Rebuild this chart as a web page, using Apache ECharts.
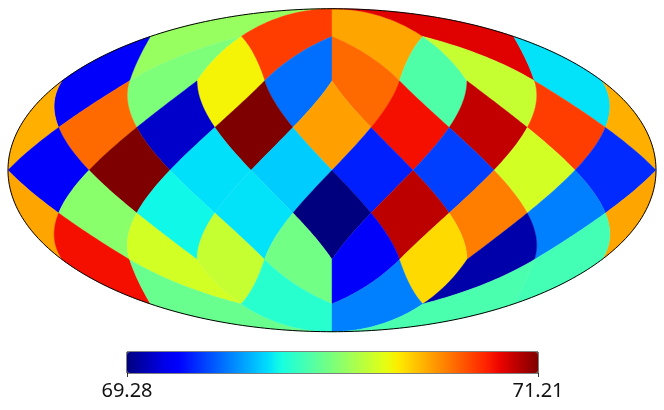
<!DOCTYPE html>
<html>
<head>
<meta charset="utf-8">
<style>
  html, body { margin: 0; padding: 0; background: #fff; }
  #chart { width: 664px; height: 410px; }
</style>
<script src="https://cdn.jsdelivr.net/npm/echarts@6/dist/echarts.min.js"></script>
</head>
<body>
<div id="chart"></div>
<script>
// healpix nside=2 map, one array per iso-latitude ring, read left to right on the picture
const ring1 = [70.31, 70.91, 70.70, 71.05]
const ring2 = [69.51, 70.25, 70.53, 69.73, 70.82, 70.14, 70.42, 69.95]
const ring3 = [70.68, 70.82, 69.405, 71.21, 70.71, 71.005, 71.10, 70.91]
const ring4 = [69.51, 71.21, 69.945, 69.91, 69.58, 69.64, 70.45, 69.60]
const ring5 = [70.70, 70.28, 69.99, 69.95, 69.28, 71.11, 70.78, 69.76]
const ring6 = [71.005, 70.45, 70.42, 70.22, 69.51, 70.59, 69.35, 70.11]
const ring7 = [70.20, 70.05, 69.76, 70.13]
const rings = [ring1, ring2, ring3, ring4, ring5, ring6, ring7]

const colorbarTicks = [69.28, 71.21]

// matplotlib jet
const jet = [
  '#00007f', '#0000a4', '#0000c8', '#0000ec', '#0000ff', '#0020ff', '#0040ff', '#0060ff',
  '#0080ff', '#009fff', '#00bfff', '#00dffc', '#15ffe2', '#2effc8', '#48ffaf', '#62ff95',
  '#7bff7b', '#95ff62', '#afff48', '#c8ff2e', '#e2ff15', '#fcf000', '#ffd200', '#ffb500',
  '#ff9700', '#ff7a00', '#ff5c00', '#ff3e00', '#ff2100', '#ec0300', '#c80000', '#a40000',
  '#7f0000'
]

const PI = Math.PI
const STEP = PI / 8

// one item per pixel: [centre x, centre y, value] on the healpix plane
function buildPixels() {
  const out = []
  rings.forEach(function (vals, r) {
    const cy = PI / 2 - (r + 1) * STEP
    const n = vals.length
    const dx = 2 * PI / n
    // ring 3 and 5 start on the map edge at lon 180
    const startLon = n === 4 ? PI - dx / 2 : (r % 2 === 0 ? PI : PI - dx / 2)
    vals.forEach(function (v, i) {
      const cx = startLon - i * dx
      out.push([cx, cy, v])
      if (Math.abs(cx - PI) < 1e-9) out.push([-PI, cy, v])
    })
  })
  return out
}

// healpix plane -> mollweide x/y
function project(xt, yt, cx) {
  const ay = Math.abs(yt)
  let z, phi
  if (ay <= PI / 4) {
    z = yt * 8 / (3 * PI)
    phi = xt
  } else {
    const sigma = 2 - 4 * ay / PI
    z = (1 - sigma * sigma / 3) * (yt < 0 ? -1 : 1)
    const xc = (Math.floor(cx / (PI / 2)) + 0.5) * PI / 2
    if (PI / 2 - ay < 1e-9) phi = xc
    else phi = xt + (ay - PI / 4) / (PI / 2 - ay) * (xt - xc)
  }
  const lon = Math.max(-PI, Math.min(PI, phi))
  return mollweide(lon, z)
}

function mollweide(lon, z) {
  let th = Math.asin(z)
  if (Math.abs(z) < 1) {
    for (let k = 0; k < 60; k++) {
      const d = 2 + 2 * Math.cos(2 * th)
      if (d < 1e-10) break
      th -= (2 * th + Math.sin(2 * th) - PI * z) / d
    }
  }
  // east is on the left
  return [-2 * Math.SQRT2 / PI * lon * Math.cos(th), Math.SQRT2 * Math.sin(th)]
}

function renderPixel(params, api) {
  const cx = api.value(0)
  const cy = api.value(1)
  const corners = [[cx, cy + STEP], [cx + STEP, cy], [cx, cy - STEP], [cx - STEP, cy]]
  const pts = []
  const steps = 24
  for (let c = 0; c < 4; c++) {
    const a = corners[c]
    const b = corners[(c + 1) % 4]
    for (let s = 0; s < steps; s++) {
      const t = s / steps
      pts.push(api.coord(project(a[0] + (b[0] - a[0]) * t, a[1] + (b[1] - a[1]) * t, cx)))
    }
  }
  const color = api.visual('color')
  return {
    type: 'polygon',
    shape: { points: pts },
    style: { fill: color, stroke: color, lineWidth: 0.4 }
  }
}

function renderOutline(params, api) {
  const pts = []
  for (let i = 0; i <= 360; i++) {
    const a = i / 360 * 2 * PI
    pts.push(api.coord([2 * Math.SQRT2 * Math.cos(a), Math.SQRT2 * Math.sin(a)]))
  }
  return {
    type: 'polygon',
    shape: { points: pts },
    style: { fill: 'none', stroke: '#000', lineWidth: 1 }
  }
}

const chart = echarts.init(document.getElementById('chart'), null, { renderer: 'canvas' })
chart.setOption({
  animation: false,
  backgroundColor: '#fff',
  grid: [
    { left: 8, top: 8.7, width: 648, height: 323 },
    { left: 127, top: 352, width: 411, height: 21 }
  ],
  xAxis: [
    { gridIndex: 0, type: 'value', min: -2 * Math.SQRT2, max: 2 * Math.SQRT2, show: false },
    {
      gridIndex: 1, type: 'value', min: colorbarTicks[0], max: colorbarTicks[1],
      splitLine: { show: false },
      axisLine: { show: false },
      axisTick: { show: true, length: 4, customValues: colorbarTicks, lineStyle: { color: '#333' } },
      axisLabel: {
        customValues: colorbarTicks, margin: 8, color: '#111',
        fontFamily: 'Noto Sans', fontSize: 20,
        formatter: function (v) { return v.toFixed(2) }
      }
    }
  ],
  yAxis: [
    { gridIndex: 0, type: 'value', min: -Math.SQRT2, max: Math.SQRT2, show: false },
    { gridIndex: 1, type: 'value', min: 0, max: 1, show: false }
  ],
  visualMap: {
    type: 'continuous',
    seriesIndex: 0,
    dimension: 2,
    min: colorbarTicks[0],
    max: colorbarTicks[1],
    orient: 'horizontal',
    left: 126.5,
    top: 351.5,
    itemWidth: 21,
    itemHeight: 411,
    padding: 0,
    borderColor: '#000',
    borderWidth: 1,
    calculable: false,
    hoverLink: false,
    showLabel: false,
    inRange: { color: jet }
  },
  series: [
    {
      type: 'custom',
      coordinateSystem: 'cartesian2d',
      xAxisIndex: 0,
      yAxisIndex: 0,
      clip: false,
      silent: true,
      data: buildPixels(),
      renderItem: renderPixel
    },
    {
      type: 'custom',
      coordinateSystem: 'cartesian2d',
      xAxisIndex: 0,
      yAxisIndex: 0,
      clip: false,
      silent: true,
      data: [[0, 0]],
      renderItem: renderOutline
    }
  ]
})
</script>
</body>
</html>
